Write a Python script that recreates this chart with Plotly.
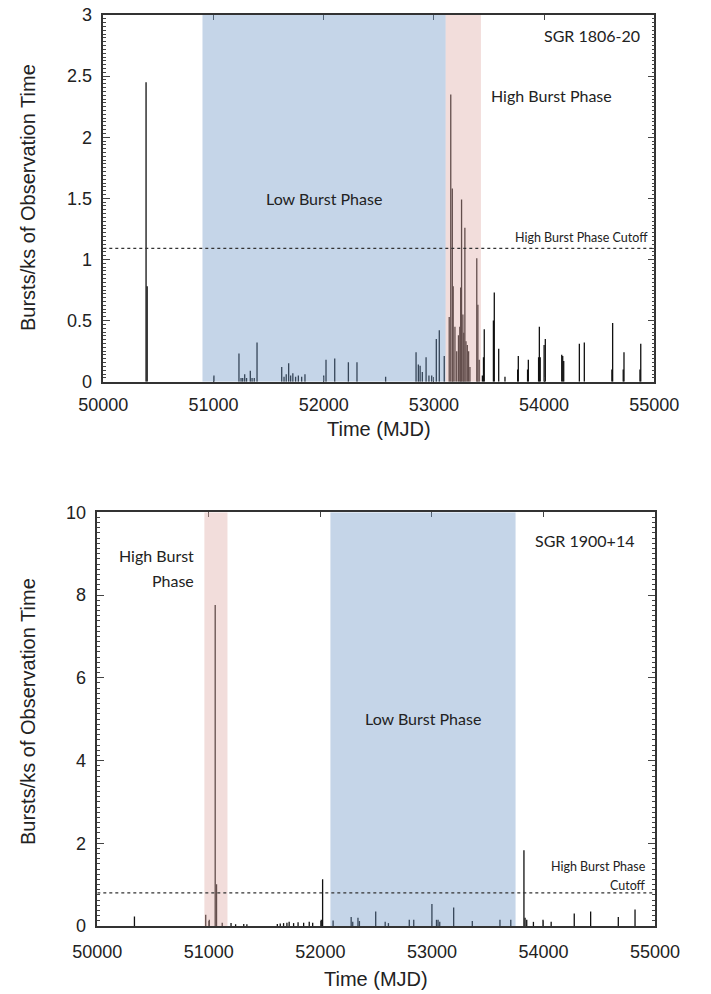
import plotly.graph_objects as go

# ---------------- data ----------------
# SGR 1806-20 : burst rate (bursts / ks of observation time) vs MJD
sgr1806_mjd = [50388, 50398, 51004, 51231, 51250, 51265, 51283, 51300, 51334, 51350,
               51370, 51395, 51619, 51640, 51660, 51682, 51700, 51720, 51745, 51770,
               51800, 51830, 52000, 52021, 52100, 52224, 52302, 52562, 52838, 52859,
               52875, 52895, 52929, 52955, 52980, 53022, 53049, 53094,
               53139, 53153, 53167, 53175, 53191, 53207, 53223, 53235, 53243, 53251,
               53263, 53271, 53281, 53291, 53303, 53315, 53327, 53389, 53399, 53411,
               53440, 53450, 53457, 53540, 53548, 53588, 53645, 53760, 53766, 53850,
               53857, 53950, 53957, 53965, 54000, 54011, 54160, 54169, 54178, 54320,
               54365, 54615, 54622, 54718, 54725, 54870, 54877]
sgr1806_rate = [2.45, 0.78, 0.05, 0.23, 0.03, 0.03, 0.06, 0.03, 0.09, 0.03,
                0.03, 0.32, 0.12, 0.04, 0.06, 0.15, 0.05, 0.07, 0.04, 0.05,
                0.04, 0.06, 0.05, 0.18, 0.19, 0.16, 0.16, 0.04, 0.24, 0.14,
                0.13, 0.08, 0.20, 0.05, 0.05, 0.35, 0.42, 0.21,
                0.53, 2.35, 1.58, 0.78, 0.45, 0.25, 0.38, 0.45, 0.77, 1.49,
                0.55, 0.40, 1.26, 0.33, 0.30, 0.25, 0.12, 1.01, 0.63, 0.18,
                0.05, 0.20, 0.43, 0.50, 0.73, 0.27, 0.04, 0.10, 0.21, 0.10,
                0.18, 0.20, 0.45, 0.20, 0.30, 0.35, 0.22, 0.21, 0.17, 0.31,
                0.32, 0.10, 0.48, 0.10, 0.24, 0.10, 0.31]
sgr1806_cutoff = 1.09
sgr1806_low_phase = [50900, 53107]
sgr1806_high_phase = [53107, 53427]

# SGR 1900+14
sgr1900_mjd = [50333, 50972, 51004, 51057, 51069, 51120, 51199, 51240, 51313, 51341,
               51614, 51640, 51670, 51700, 51720, 51760, 51800, 51850, 51900, 51931,
               52008, 52020, 52114, 52276, 52290, 52337, 52350, 52496, 52581, 52610,
               52797, 52837, 53000, 53041, 53055, 53070, 53195, 53362, 53610, 53707,
               53825, 53835, 53850, 53910, 53996, 54069, 54276, 54423, 54671, 54821]
sgr1900_rate = [0.23, 0.27, 0.15, 7.76, 1.01, 0.08, 0.07, 0.04, 0.05, 0.04,
                0.05, 0.06, 0.07, 0.08, 0.10, 0.07, 0.09, 0.08, 0.10, 0.08,
                0.15, 1.13, 0.13, 0.22, 0.10, 0.20, 0.12, 0.35, 0.10, 0.07,
                0.15, 0.15, 0.53, 0.15, 0.15, 0.10, 0.45, 0.12, 0.15, 0.15,
                1.83, 0.20, 0.15, 0.10, 0.15, 0.10, 0.30, 0.35, 0.22, 0.40]
sgr1900_cutoff = 0.8
sgr1900_low_phase = [52090, 53750]
sgr1900_high_phase = [50960, 51167]

x_range = [50000, 55000]
x_ticks = [50000, 51000, 52000, 53000, 54000, 55000]


def stems(xs, ys):
    """Build vertical impulse segments (x, 0)->(x, y) from the data arrays."""
    sx, sy = [], []
    for x, y in zip(xs, ys):
        sx += [x, x, None]
        sy += [0, y, None]
    return sx, sy


# ---------------- figure ----------------
W, H = 711, 994
fig = go.Figure()

sx, sy = stems(sgr1806_mjd, sgr1806_rate)
fig.add_trace(go.Scatter(x=sx, y=sy, mode="lines", line=dict(color="#111", width=1.3),
                         xaxis="x", yaxis="y", showlegend=False, hoverinfo="skip"))
sx, sy = stems(sgr1900_mjd, sgr1900_rate)
fig.add_trace(go.Scatter(x=sx, y=sy, mode="lines", line=dict(color="#111", width=1.3),
                         xaxis="x2", yaxis="y2", showlegend=False, hoverinfo="skip"))

tickfont = dict(family="Liberation Sans, Arial, sans-serif", size=18, color="#222")
ax_common = dict(showline=True, linecolor="#333", linewidth=1.5, mirror="ticks", ticks="inside",
                 tickcolor="#444", showgrid=False, zeroline=False, tickfont=tickfont,
                 automargin=False)


def px_x(p):
    return p / W


def px_y(p):
    return 1 - p / H


fig.update_layout(
    template="none",
    width=W, height=H, margin=dict(l=0, r=0, t=0, b=0, pad=0),
    paper_bgcolor="white", plot_bgcolor="white",
    xaxis=dict(ax_common, domain=[px_x(103.3), px_x(654.3)], range=x_range, tickvals=x_ticks,
               tickformat="d", ticklen=5, anchor="y", ticklabelstandoff=6),
    yaxis=dict(ax_common, domain=[px_y(381.7), px_y(15)], range=[0, 3], dtick=0.5, ticklen=7,
               anchor="x", ticklabelstandoff=6,
               minor=dict(ticks="inside", ticklen=3, dtick=0.03125, tickcolor="#444")),
    xaxis2=dict(ax_common, domain=[px_x(97.3), px_x(655)], range=x_range, tickvals=x_ticks,
                tickformat="d", ticklen=5, anchor="y2", ticklabelstandoff=9),
    yaxis2=dict(ax_common, domain=[px_y(926), px_y(512.3)], range=[0, 10], dtick=2, ticklen=7,
                anchor="x2", ticklabelstandoff=6,
                minor=dict(ticks="inside", ticklen=3, dtick=0.125, tickcolor="#444")),
)

# phase shading (drawn over the impulses, translucent, like the reference)
blue = "rgb(110,150,198)"
pink = "rgb(222,170,165)"
for xr, yr, lo, hi, ymax in [("x", "y", sgr1806_low_phase, sgr1806_high_phase, 3),
                             ("x2", "y2", sgr1900_low_phase, sgr1900_high_phase, 10)]:
    fig.add_shape(type="rect", xref=xr, yref=yr, x0=lo[0], x1=lo[1], y0=0, y1=ymax,
                  fillcolor=blue, opacity=0.4, line=dict(width=0), layer="above")
    fig.add_shape(type="rect", xref=xr, yref=yr, x0=hi[0], x1=hi[1], y0=0, y1=ymax,
                  fillcolor=pink, opacity=0.4, line=dict(width=0), layer="above")

# cutoff lines
fig.add_shape(type="line", xref="x", yref="y", x0=x_range[0], x1=x_range[1], y0=sgr1806_cutoff,
              y1=sgr1806_cutoff, line=dict(color="#333", width=1.3, dash="dot"))
fig.add_shape(type="line", xref="x2", yref="y2", x0=x_range[0], x1=x_range[1], y0=sgr1900_cutoff,
              y1=sgr1900_cutoff, line=dict(color="#333", width=1.3, dash="dot"))

lab = dict(family="Lato, 'Open Sans', sans-serif", size=16, color="#222")
small = dict(family="Lato, 'Open Sans', sans-serif", size=12.5, color="#222")

ann = [
    dict(xref="x", yref="y", x=54435, y=2.83, text="SGR 1806-20", font=lab),
    dict(xref="x", yref="y", x=54063, y=2.34, text="High Burst Phase", font=lab),
    dict(xref="x", yref="y", x=52001, y=1.50, text="Low Burst Phase", font=lab),
    dict(xref="x", yref="y", x=54960, y=1.18, text="High Burst Phase Cutoff", font=small, xanchor="right"),
    dict(xref="x2", yref="y2", x=54370, y=9.33, text="SGR 1900+14", font=lab),
    dict(xref="x2", yref="y2", x=50886, y=8.95, text="High Burst", font=lab, xanchor="right"),
    dict(xref="x2", yref="y2", x=50886, y=8.35, text="Phase", font=lab, xanchor="right"),
    dict(xref="x2", yref="y2", x=52919, y=5.01, text="Low Burst Phase", font=lab),
    dict(xref="x2", yref="y2", x=54935, y=1.45, text="High Burst Phase", font=small, xanchor="right"),
    dict(xref="x2", yref="y2", x=54935, y=0.99, text="Cutoff", font=small, xanchor="right"),
]
title_font = dict(family="Liberation Sans, Arial, sans-serif", size=20, color="#222")
ann += [
    dict(xref="paper", yref="paper", x=px_x(28), y=px_y(198), text="Bursts/ks of Observation Time",
         textangle=-90, font=title_font),
    dict(xref="paper", yref="paper", x=px_x(28), y=px_y(712), text="Bursts/ks of Observation Time",
         textangle=-90, font=title_font),
    dict(xref="paper", yref="paper", x=px_x(379), y=px_y(429), text="Time (MJD)", font=title_font),
    dict(xref="paper", yref="paper", x=px_x(376), y=px_y(979), text="Time (MJD)", font=title_font),
]
for a in ann:
    a.setdefault("showarrow", False)
    a.setdefault("xanchor", "center")
    a.setdefault("yanchor", "middle")
    fig.add_annotation(**a)

# remove the default page margin so the figure sits at the window's top-left corner
fig.write_html("out.html", config={"displayModeBar": False},
               post_script="document.body.style.margin='0';document.body.style.overflow='hidden';")
